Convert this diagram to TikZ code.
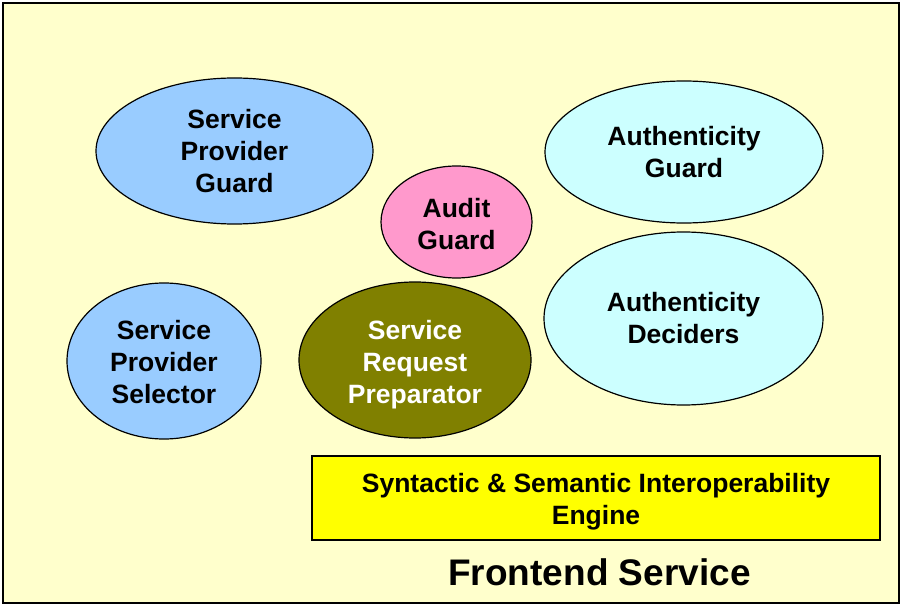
\documentclass[tikz,border=0pt]{standalone}
\usepackage{fontspec}
\setmainfont{Liberation Sans}
\usetikzlibrary{shapes.geometric}

\definecolor{paper}{HTML}{FFFFCC}
\definecolor{skyblue}{HTML}{99CCFF}
\definecolor{paleaqua}{HTML}{CCFFFF}
\definecolor{rosepink}{HTML}{FF99CC}
\definecolor{olivegreen}{HTML}{808000}
\definecolor{brightyellow}{HTML}{FFFF00}

\begin{document}
\begin{tikzpicture}[x=1pt, y=-1pt,
    part/.style={ellipse, draw, line width=1.2pt, inner sep=0pt, align=center,
        font=\fontsize{26.5}{32}\selectfont\bfseries},
    engine/.style={rectangle, draw, line width=1.4pt, fill=brightyellow, inner sep=0pt,
        align=center, font=\fontsize{26.5}{32}\selectfont\bfseries}]
        \useasboundingbox (0,0) rectangle (900,604);
        \draw[line width=1.4pt, fill=paper] (3,3) rectangle (899,603);
        % components of the frontend
        \node[part, fill=skyblue, minimum width=277pt, minimum height=146pt] (provguard) at (234.5,151) {Service\\Provider\\Guard};
        \node[part, fill=paleaqua, minimum width=278pt, minimum height=142pt] (authguard) at (684,152) {Authenticity\\Guard};
        \node[part, fill=rosepink, minimum width=151pt, minimum height=112pt, text height=55pt] (audit) at (456.5,222) {Audit\\Guard};
        \node[part, fill=paleaqua, minimum width=279pt, minimum height=173pt] (deciders) at (683.5,318.5) {Authenticity\\Deciders};
        \node[part, fill=skyblue, minimum width=194pt, minimum height=156pt, text height=86pt] (selector) at (164,361) {Service\\Provider\\Selector};
        \node[part, fill=olivegreen, text=white, minimum width=232pt, minimum height=156pt, text height=92pt] (preparator) at (415,360) {Service\\Request\\Preparator};
        % interoperability engine
        \node[engine, minimum width=568pt, minimum height=84pt, text height=59pt] (engine) at (596,498) {Syntactic \& Semantic Interoperability\\Engine};
        \node[anchor=base, font=\fontsize{37}{44}\selectfont\bfseries] (title) at (599.5,585) {Frontend Service};
\end{tikzpicture}
\end{document}
